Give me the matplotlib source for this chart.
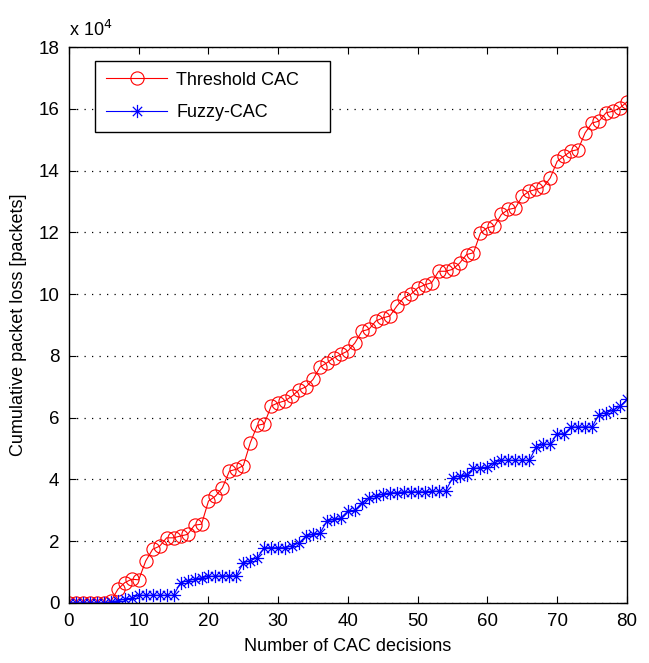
import matplotlib
matplotlib.use("Agg")
import matplotlib.pyplot as plt
from matplotlib.path import Path
import numpy as np

plt.rcParams['font.family'] = ['Liberation Sans', 'DejaVu Sans']

# CAC decision index
decisions = list(range(0, 81))

# cumulative packet loss, in units of 10^4 packets
threshold_cac = [
    0, 0, 0, 0, 0, 0, 0.05, 0.44, 0.66, 0.77, 0.75,
    1.36, 1.74, 1.84, 2.11, 2.11, 2.17, 2.22, 2.52, 2.55, 3.30,
    3.46, 3.73, 4.27, 4.33, 4.45, 5.19, 5.75, 5.80, 6.38, 6.48,
    6.55, 6.70, 6.90, 7.00, 7.24, 7.64, 7.78, 7.94, 8.05, 8.16,
    8.42, 8.80, 8.86, 9.13, 9.23, 9.29, 9.61, 9.88, 9.99, 10.20,
    10.30, 10.37, 10.74, 10.74, 10.80, 11.00, 11.28, 11.34, 11.98, 12.15,
    12.20, 12.58, 12.74, 12.79, 13.17, 13.33, 13.39, 13.46, 13.76, 14.30,
    14.47, 14.63, 14.68, 15.22, 15.54, 15.60, 15.87, 15.92, 16.03, 16.22,
]
fuzzy_cac = [
    0, 0, 0, 0, 0, 0, 0.03, 0.08, 0.12, 0.16, 0.25,
    0.25, 0.25, 0.25, 0.25, 0.25, 0.66, 0.72, 0.77, 0.82, 0.86,
    0.87, 0.88, 0.88, 0.88, 1.30, 1.37, 1.47, 1.79, 1.79, 1.79,
    1.79, 1.85, 1.95, 2.17, 2.22, 2.27, 2.65, 2.71, 2.76, 2.98,
    3.00, 3.25, 3.41, 3.46, 3.52, 3.57, 3.57, 3.60, 3.60, 3.60,
    3.60, 3.62, 3.62, 3.62, 4.05, 4.11, 4.16, 4.36, 4.38, 4.40,
    4.54, 4.62, 4.62, 4.62, 4.62, 4.62, 5.05, 5.14, 5.14, 5.48,
    5.48, 5.70, 5.70, 5.70, 5.70, 6.10, 6.16, 6.24, 6.37, 6.59,
]

x_ticks = list(range(0, 81, 10))
y_ticks = list(range(0, 19, 2))

# eight-armed asterisk marker
d = np.sqrt(0.5)
asterisk = Path(
    [(-1, 0), (1, 0), (0, -1), (0, 1), (-d, -d), (d, d), (-d, d), (d, -d)],
    [Path.MOVETO, Path.LINETO] * 4,
)

fig = plt.figure(figsize=(6.49, 6.63), dpi=100)
ax = fig.add_axes([0.1063, 0.0905, 0.8597, 0.8386])

ax.plot(decisions, threshold_cac, color='red', lw=0.8, marker='o',
        markersize=9.5, markerfacecolor='none', markeredgecolor='red',
        markeredgewidth=0.8, label='Threshold CAC')
ax.plot(decisions, fuzzy_cac, color='blue', lw=0.8, marker=asterisk,
        markersize=9.5, markerfacecolor='none', markeredgecolor='blue',
        markeredgewidth=0.9, label='Fuzzy-CAC')

ax.set_xlim(0, 80)
ax.set_ylim(0, 18)
ax.set_xticks(x_ticks)
ax.set_yticks(y_ticks)
ax.set_xticklabels([str(v) for v in x_ticks])
ax.set_yticklabels([str(v) for v in y_ticks])
ax.tick_params(direction='in', length=5, width=0.8, top=True, right=True,
               labelsize=13.5, pad=7)
ax.yaxis.grid(True, linestyle=(0, (1, 5)), color='black', lw=0.9)
ax.set_axisbelow(True)
for s in ax.spines.values():
    s.set_linewidth(1.0)

ax.set_xlabel('Number of CAC decisions', fontsize=13, labelpad=6)
ax.set_ylabel('Cumulative packet loss [packets]', fontsize=13, labelpad=8)
ax.text(0.0, 1.012, r'x 10$^{4}$', transform=ax.transAxes, fontsize=13,
        ha='left', va='bottom')

leg = ax.legend(loc='upper left', bbox_to_anchor=(0.0466, 0.975, 0.4214, 0.0),
                mode='expand', fancybox=False, edgecolor='black', framealpha=1,
                fontsize=13, handlelength=3.4, borderaxespad=0,
                borderpad=0.6, labelspacing=0.85, handletextpad=0.5)
leg.get_frame().set_linewidth(1.0)

fig.savefig('out.png', dpi=100)
